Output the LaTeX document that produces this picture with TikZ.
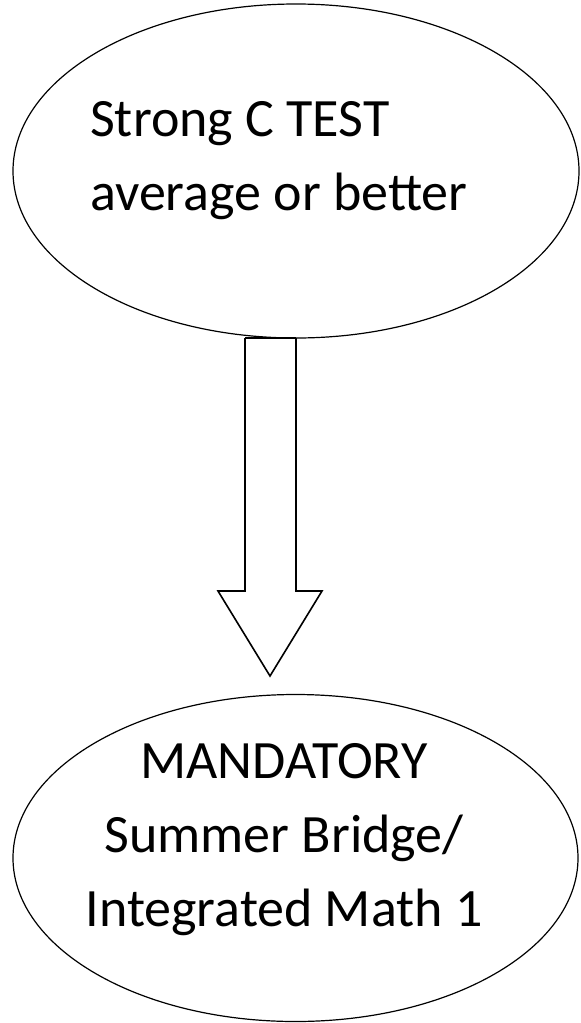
\documentclass[tikz,border=0pt]{standalone}
\usepackage{fontspec}
\setmainfont{Carlito}
\usetikzlibrary{shapes.geometric}
\usetikzlibrary{positioning}

\begin{document}
\begin{tikzpicture}[x=1pt, y=-1pt,
		bubble/.style={draw, ellipse, line width=1.2pt, inner sep=0pt},
		bubbletext/.style={font=\fontsize{54}{74}\selectfont, inner sep=0pt},
		blockarrow/.style={draw, line width=1.6pt, line join=miter}]
		\useasboundingbox (0,0) rectangle (581,1023);
		
		\node[bubble, minimum width=566pt, minimum height=334pt] (test) at (296,171) {};
		\node[bubbletext, align=left, anchor=west] (testtext) at (90,160.5) {Strong C TEST\\average or better};
		
		\node[bubble, minimum width=565pt, minimum height=327pt] (bridge) at (295.5,858) {};
		\node[bubbletext, align=center] (bridgetext) at (284,840) {MANDATORY\\Summer Bridge/\\Integrated Math 1};
		
		% block arrow from test down to bridge
		\coordinate (atop) at (270.5,338);
		\coordinate (atip) at (270,676);
		\draw[blockarrow] ([xshift=-25.5pt]atop) -- ([xshift=-25.5pt]atop |- 0,591) -- ([xshift=-52pt]atip |- 0,591)
			-- (atip) -- ([xshift=52pt]atip |- 0,591) -- ([xshift=25.5pt]atop |- 0,591) -- ([xshift=25.5pt]atop);
		\draw[blockarrow] ([xshift=-25.5pt]atop) -- ([xshift=25.5pt]atop);
		
\end{tikzpicture}
\end{document}
